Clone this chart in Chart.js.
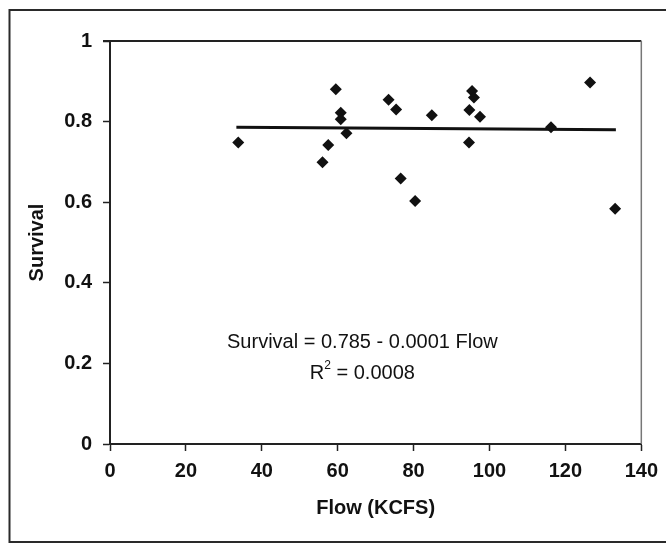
<!DOCTYPE html>
<html>
<head>
<meta charset="utf-8">
<script src="https://cdn.jsdelivr.net/npm/chart.js@4.4.1/dist/chart.umd.min.js"></script>
<style>
  html, body { margin: 0; padding: 0; background: #fff; }
  #wrap { position: relative; width: 666px; height: 544px; }
</style>
</head>
<body>
<div id="wrap"><canvas id="c" width="666" height="544"></canvas></div>
<script>
// Observed data (Flow in KCFS, Survival)
const flow = [33.8, 56.0, 57.5, 59.5, 60.8, 60.8, 62.3, 73.4, 75.4, 76.6, 80.4, 84.8, 94.7, 94.6, 95.4, 95.9, 97.5, 116.2, 126.5, 133.1];
const survival = [0.748, 0.699, 0.742, 0.880, 0.822, 0.806, 0.771, 0.854, 0.830, 0.659, 0.603, 0.816, 0.829, 0.748, 0.876, 0.860, 0.812, 0.786, 0.897, 0.584];

// Fitted regression line end points (as drawn)
const fitFlow = [33.3, 133.3];
const fitSurvival = [0.786, 0.780];

const xTicks = [0, 20, 40, 60, 80, 100, 120, 140];
const yTicks = [0, 0.2, 0.4, 0.6, 0.8, 1];

const equationText = 'Survival = 0.785 - 0.0001 Flow';
const r2Value = '0.0008';
const xTitle = 'Flow (KCFS)';
const yTitle = 'Survival';

const ink = '#111';
const fontFam = '"Liberation Sans", Arial, sans-serif';

const framePlugin = {
  id: 'frame',
  beforeDraw(chart) {
    const ctx = chart.ctx;
    ctx.save();
    ctx.fillStyle = '#fff';
    ctx.fillRect(0, 0, chart.width, chart.height);
    ctx.strokeStyle = '#2a2a2a';
    ctx.lineWidth = 2;
    ctx.beginPath();
    ctx.moveTo(700, 10);
    ctx.lineTo(9.5, 10);
    ctx.lineTo(9.5, 542);
    ctx.lineTo(700, 542);
    ctx.stroke();
    ctx.restore();
  },
  afterDatasetsDraw(chart) {
    const ctx = chart.ctx;
    const a = chart.chartArea;
    ctx.save();
    ctx.strokeStyle = '#222';
    ctx.lineWidth = 2;
    ctx.beginPath();
    ctx.moveTo(a.left - 7, a.top);
    ctx.lineTo(a.right, a.top);
    ctx.stroke();
    ctx.strokeStyle = '#777';
    ctx.lineWidth = 1.5;
    ctx.beginPath();
    ctx.moveTo(a.right, a.top);
    ctx.lineTo(a.right, a.bottom);
    ctx.stroke();
    // equation annotation
    const xs = chart.scales.x, ys = chart.scales.y;
    const cx = xs.getPixelForValue(66.5);
    const y1 = ys.getPixelForValue(0.253);
    const y2 = ys.getPixelForValue(0.176);
    const big = '20px ' + fontFam, small = '12px ' + fontFam;
    ctx.fillStyle = ink;
    ctx.font = big;
    ctx.textBaseline = 'middle';
    ctx.textAlign = 'center';
    ctx.fillText(equationText, cx, y1);
    const rest = ' = ' + r2Value;
    const wR = ctx.measureText('R').width;
    const wRest = ctx.measureText(rest).width;
    ctx.font = small;
    const w2 = ctx.measureText('2').width;
    const total = wR + w2 + wRest;
    const x0 = cx - total / 2;
    ctx.textAlign = 'left';
    ctx.font = big;
    ctx.fillText('R', x0, y2);
    ctx.font = small;
    ctx.fillText('2', x0 + wR, y2 - 7);
    ctx.font = big;
    ctx.fillText(rest, x0 + wR + w2, y2);
    ctx.restore();
  }
};

new Chart(document.getElementById('c'), {
  type: 'scatter',
  data: {
    datasets: [
      {
        label: 'Survival',
        data: flow.map((f, i) => ({ x: f, y: survival[i] })),
        pointStyle: 'rectRot',
        pointRadius: 6,
        backgroundColor: ink,
        borderColor: ink,
        borderWidth: 0,
        order: 1
      },
      {
        label: 'Fit',
        type: 'line',
        data: fitFlow.map((f, i) => ({ x: f, y: fitSurvival[i] })),
        borderColor: ink,
        borderWidth: 3,
        pointRadius: 0,
        fill: false,
        order: 2
      }
    ]
  },
  options: {
    responsive: false,
    animation: false,
    events: [],
    layout: { padding: { left: 0, top: 41, right: 24, bottom: 0 } },
    plugins: {
      legend: { display: false },
      tooltip: { enabled: false }
    },
    scales: {
      x: {
        type: 'linear',
        min: 0, max: 140,
        afterBuildTicks(scale) { scale.ticks = xTicks.map(v => ({ value: v })); },
        afterFit(scale) { scale.height = 100; },
        ticks: {
          color: ink,
          font: { family: fontFam, size: 20, weight: 'bold' },
          padding: 8,
          maxRotation: 0,
          callback: v => String(v)
        },
        grid: { drawOnChartArea: false, drawTicks: true, tickLength: 7, tickWidth: 1.5, tickColor: '#222' },
        border: { display: true, color: '#222', width: 2 },
        title: {
          display: true,
          text: xTitle,
          color: ink,
          font: { family: fontFam, size: 20, weight: 'bold' },
          padding: { top: 0, bottom: 24 }
        }
      },
      y: {
        type: 'linear',
        min: 0, max: 1,
        afterBuildTicks(scale) { scale.ticks = yTicks.map(v => ({ value: v })); },
        afterFit(scale) { scale.width = 110; },
        ticks: {
          color: ink,
          font: { family: fontFam, size: 20, weight: 'bold' },
          padding: 11,
          callback: v => String(v)
        },
        grid: { drawOnChartArea: false, drawTicks: true, tickLength: 7, tickWidth: 1.5, tickColor: '#222' },
        border: { display: true, color: '#222', width: 2 },
        title: {
          display: true,
          text: yTitle,
          color: ink,
          font: { family: fontFam, size: 20, weight: 'bold' },
          padding: { top: 25, bottom: 0 }
        }
      }
    }
  },
  plugins: [framePlugin]
});
</script>
</body>
</html>
